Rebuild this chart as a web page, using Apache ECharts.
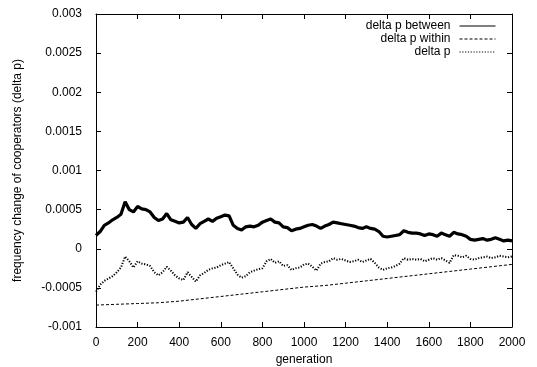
<!DOCTYPE html>
<html>
<head>
<meta charset="utf-8">
<script src="https://cdn.jsdelivr.net/npm/echarts@6/dist/echarts.min.js"></script>
<style>html,body{margin:0;padding:0;background:#fff;}#c{width:537px;height:367px;}</style>
</head>
<body>
<div id="c"></div>
<script>
var gens = [0,20,40,60,80,100,120,140,160,180,200,220,240,260,280,300,320,340,360,380,400,420,440,460,480,500,520,540,560,580,600,620,640,660,680,700,720,740,760,780,800,820,840,860,880,900,920,940,960,980,1000,1020,1040,1060,1080,1100,1120,1140,1160,1180,1200,1220,1240,1260,1280,1300,1320,1340,1360,1380,1400,1420,1440,1460,1480,1500,1520,1540,1560,1580,1600,1620,1640,1660,1680,1700,1720,1740,1760,1780,1800,1820,1840,1860,1880,1900,1920,1940,1960,1980,2000];

var deltaBetween = [0.00017,0.00022,0.00030,0.00033,0.00037,0.00040,0.00044,0.00060,0.00050,0.00047,0.00054,0.00051,0.00050,0.00047,0.00040,0.00036,0.00038,0.00045,0.00037,0.00035,0.00033,0.00034,0.00040,0.00031,0.00026,0.00032,0.00035,0.00038,0.00035,0.00039,0.00041,0.00043,0.00042,0.00030,0.00026,0.00024,0.00028,0.00029,0.00028,0.00030,0.00034,0.00036,0.00038,0.00034,0.00033,0.00028,0.00027,0.00023,0.00025,0.00026,0.00028,0.00030,0.00031,0.00029,0.00026,0.00029,0.00031,0.00034,0.00033,0.00032,0.00031,0.00030,0.00029,0.00027,0.00026,0.00028,0.00026,0.00025,0.00022,0.00016,0.00015,0.00016,0.00017,0.00018,0.00023,0.00021,0.00020,0.00020,0.00019,0.00017,0.00019,0.00018,0.00016,0.00020,0.00018,0.00016,0.00021,0.00019,0.00018,0.00016,0.00012,0.00011,0.00012,0.00013,0.00011,0.00012,0.00014,0.00012,0.00010,0.00011,0.00010];

var deltaP = [-0.00055,-0.00046,-0.00041,-0.00038,-0.00035,-0.00030,-0.00024,-0.00010,-0.00016,-0.00024,-0.00016,-0.00019,-0.00020,-0.00022,-0.00030,-0.00034,-0.00030,-0.00023,-0.00028,-0.00034,-0.00038,-0.00040,-0.00030,-0.00036,-0.00042,-0.00034,-0.00031,-0.00027,-0.00025,-0.00024,-0.00021,-0.00019,-0.00017,-0.00025,-0.00033,-0.00037,-0.00035,-0.00030,-0.00028,-0.00026,-0.00025,-0.00016,-0.00013,-0.00018,-0.00016,-0.00022,-0.00021,-0.00027,-0.00025,-0.00024,-0.00020,-0.00019,-0.00023,-0.00028,-0.00019,-0.00017,-0.00016,-0.00012,-0.00014,-0.00013,-0.00015,-0.00017,-0.00016,-0.00014,-0.00017,-0.00015,-0.00013,-0.00018,-0.00024,-0.00027,-0.00025,-0.00024,-0.00022,-0.00019,-0.00012,-0.00014,-0.00013,-0.00014,-0.00013,-0.00016,-0.00014,-0.00012,-0.00014,-0.00012,-0.00015,-0.00018,-0.00008,-0.00009,-0.00011,-0.00009,-0.00013,-0.00014,-0.00012,-0.00011,-0.00010,-0.00012,-0.00011,-0.00009,-0.00010,-0.00011,-0.00010];

var gensWithin = [0,100,200,300,400,500,600,700,800,900,1000,1100,1200,1300,1400,1500,1600,1700,1800,1900,2000];
var deltaWithin = [-0.00072,-0.00071,-0.00070,-0.00069,-0.00067,-0.00064,-0.00061,-0.00058,-0.00055,-0.00052,-0.00049,-0.00047,-0.00044,-0.00041,-0.00038,-0.00035,-0.00032,-0.00029,-0.00026,-0.00023,-0.00020];

var yTickLabels = ['-0.001','-0.0005','0','0.0005','0.001','0.0015','0.002','0.0025','0.003'];
var seriesNames = ['delta p between','delta p within','delta p'];

function pairs(xs, ys){ return xs.map(function(x,i){ return [x, ys[i]]; }); }

var FONT = 'Liberation Sans';
var chart = echarts.init(document.getElementById('c'), null, {renderer:'canvas'});
var axisLine = {show:true, onZero:false, lineStyle:{color:'#000', width:1}};
var tick = {show:true, inside:true, length:5, lineStyle:{color:'#000'}};
chart.setOption({
  animation:false,
  backgroundColor:'#fff',
  textStyle:{fontFamily:FONT, color:'#000'},
  grid:{left:96, right:25, top:14, bottom:40, containLabel:false, outerBoundsMode:'none'},
  legend:{
    orient:'vertical', right:36, top:15, align:'right',
    itemWidth:36, itemHeight:10, itemGap:1,
    data:seriesNames,
    itemStyle:{opacity:0},
    lineStyle:{width:1},
    textStyle:{fontFamily:FONT, fontSize:12, color:'#000', lineHeight:10, padding:[0,4,0,0]},
    inactiveColor:'#000'
  },
  xAxis:[{
    type:'value', min:0, max:2000, interval:200,
    name:'generation', nameLocation:'middle', nameGap:27,
    nameTextStyle:{fontFamily:FONT, fontSize:12, color:'#000'},
    axisLine:axisLine, axisTick:tick,
    axisLabel:{color:'#000', fontFamily:FONT, fontSize:12, margin:10, formatter:function(v){ return String(v); }},
    splitLine:{show:false}
  },{
    type:'value', min:0, max:2000, interval:200, position:'top',
    axisLine:axisLine, axisTick:tick,
    axisLabel:{show:false}, splitLine:{show:false}
  }],
  yAxis:[{
    type:'value', min:-0.001, max:0.003, interval:0.0005,
    name:'frequency change of cooperators (delta p)', nameLocation:'middle', nameGap:72,
    nameTextStyle:{fontFamily:FONT, fontSize:12, color:'#000'},
    axisLine:axisLine, axisTick:tick,
    axisLabel:{color:'#000', fontFamily:FONT, fontSize:12, margin:14,
      formatter:function(v){ var i = Math.round((v+0.001)/0.0005); return yTickLabels[i]; }},
    splitLine:{show:false}
  },{
    type:'value', min:-0.001, max:0.003, interval:0.0005, position:'right',
    axisLine:axisLine, axisTick:tick,
    axisLabel:{show:false}, splitLine:{show:false}
  }],
  series:[
    {name:seriesNames[0], type:'line', data:pairs(gens, deltaBetween), symbol:'none', showSymbol:false,
     lineStyle:{color:'#000', width:3.2, type:'solid'}, itemStyle:{color:'#000'}},
    {name:seriesNames[1], type:'line', data:pairs(gensWithin, deltaWithin), symbol:'none', showSymbol:false,
     lineStyle:{color:'#000', width:1, type:[3,2]}, itemStyle:{color:'#000'}},
    {name:seriesNames[2], type:'line', data:pairs(gens, deltaP), symbol:'none', showSymbol:false,
     lineStyle:{color:'#000', width:2, type:[1.2,1.6]}, itemStyle:{color:'#000'}}
  ]
});
</script>
</body>
</html>
